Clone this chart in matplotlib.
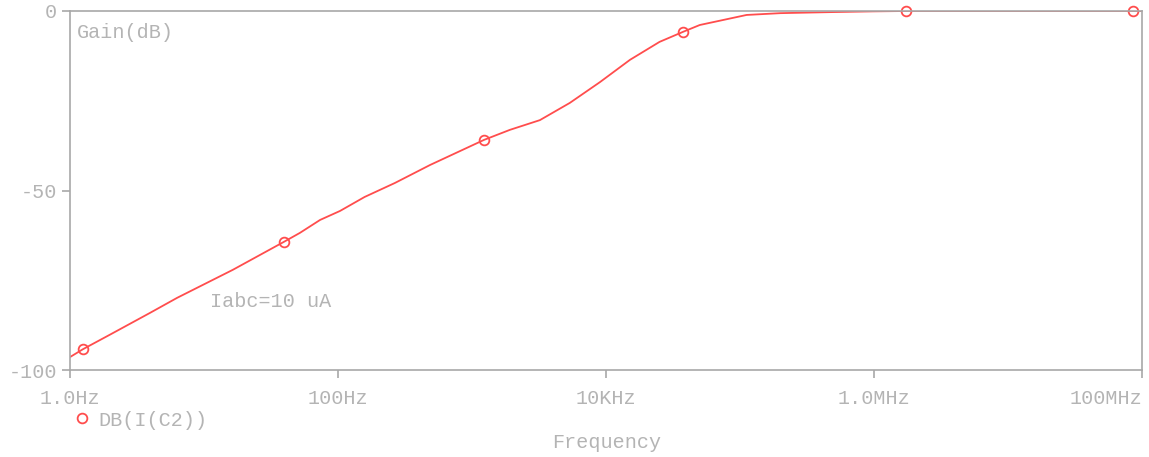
import matplotlib.pyplot as plt
from matplotlib.lines import Line2D

# gain curve read from the AC sweep
freq = [1.0, 1.25, 2.0, 3.95, 6.3, 16.4, 39.5, 52.0, 73.5, 103.5, 158.0, 266.0, 486.0,
        1230.0, 1920.0, 3210.0, 5370.0, 9020.0, 15100.0, 25100.0, 37600.0, 50100.0,
        112000.0, 200000.0, 490000.0, 1000000.0, 1740000.0, 1.0e8]
gain = [-96.4, -94.2, -90.1, -84.1, -79.9, -72.1, -64.3, -61.8, -58.2, -55.7, -51.8,
        -47.9, -42.9, -35.9, -33.1, -30.4, -25.6, -19.8, -13.6, -8.6, -5.8, -3.9,
        -1.1, -0.6, -0.3, -0.1, 0.0, 0.0]

# symbol positions on the trace
mark_freq = [1.25, 39.5, 1230.0, 37600.0, 1.74e6, 8.5e7]
mark_gain = [-94.2, -64.3, -35.9, -5.8, 0.0, 0.0]

xticks = [1, 100, 1e4, 1e6, 1e8]
xlabels = ["1.0Hz", "100Hz", "10KHz", "1.0MHz", "100MHz"]
yticks = [0, -50, -100]
ylabels = ["0", "-50", "-100"]

red = "#ff4d4d"
grey = "#b4b4b4"
axis_grey = "#a8a8a8"

plt.rcParams['font.family'] = ['Liberation Mono', 'DejaVu Sans Mono']

fig = plt.figure(figsize=(11.49, 4.57), dpi=100)
ax = fig.add_axes([70 / 1149, 1 - 370 / 457, (1142 - 70) / 1149, (370 - 11) / 457])

ax.plot(freq, gain, color=red, lw=1.3)
ax.plot(mark_freq, mark_gain, ls="none", marker="o", ms=7, mfc="none",
        mec=red, mew=1.3, clip_on=False)

ax.set_xscale("log")
ax.set_xlim(1, 1e8)
ax.set_ylim(-100, 0)
ax.set_xticks(xticks)
ax.set_xticklabels(xlabels)
ax.xaxis.set_minor_locator(plt.NullLocator())
ax.set_yticks(yticks)
ax.set_yticklabels(ylabels)
ax.get_xticklabels()[-1].set_ha("right")

for s in ax.spines.values():
    s.set_color(axis_grey)
    s.set_linewidth(1.2)
ax.tick_params(colors=axis_grey, labelcolor=grey, labelsize=14.5, length=6, width=1.2)
ax.tick_params(axis="x", pad=8)

ax.text(0.006, 0.925, "Gain(dB)", transform=ax.transAxes, color=grey, fontsize=14.5)
ax.text(11.0, -82.5, "Iabc=10 uA", color=grey, fontsize=14.5)

fig.text(607 / 1149, 1 - 442 / 457, "Frequency", color=grey, fontsize=14.5,
         ha="center", va="center")

h = Line2D([], [], ls="none", marker="o", ms=7, mfc="none", mec=red, mew=1.3)
fig.legend([h], ["DB(I(C2))"], loc="center left", bbox_to_anchor=(62 / 1149, 1 - 420 / 457),
           frameon=False, labelcolor=grey, fontsize=14.5, handletextpad=0.3,
           handlelength=1.0, borderpad=0)

fig.savefig("out.png", dpi=100, facecolor="white")
